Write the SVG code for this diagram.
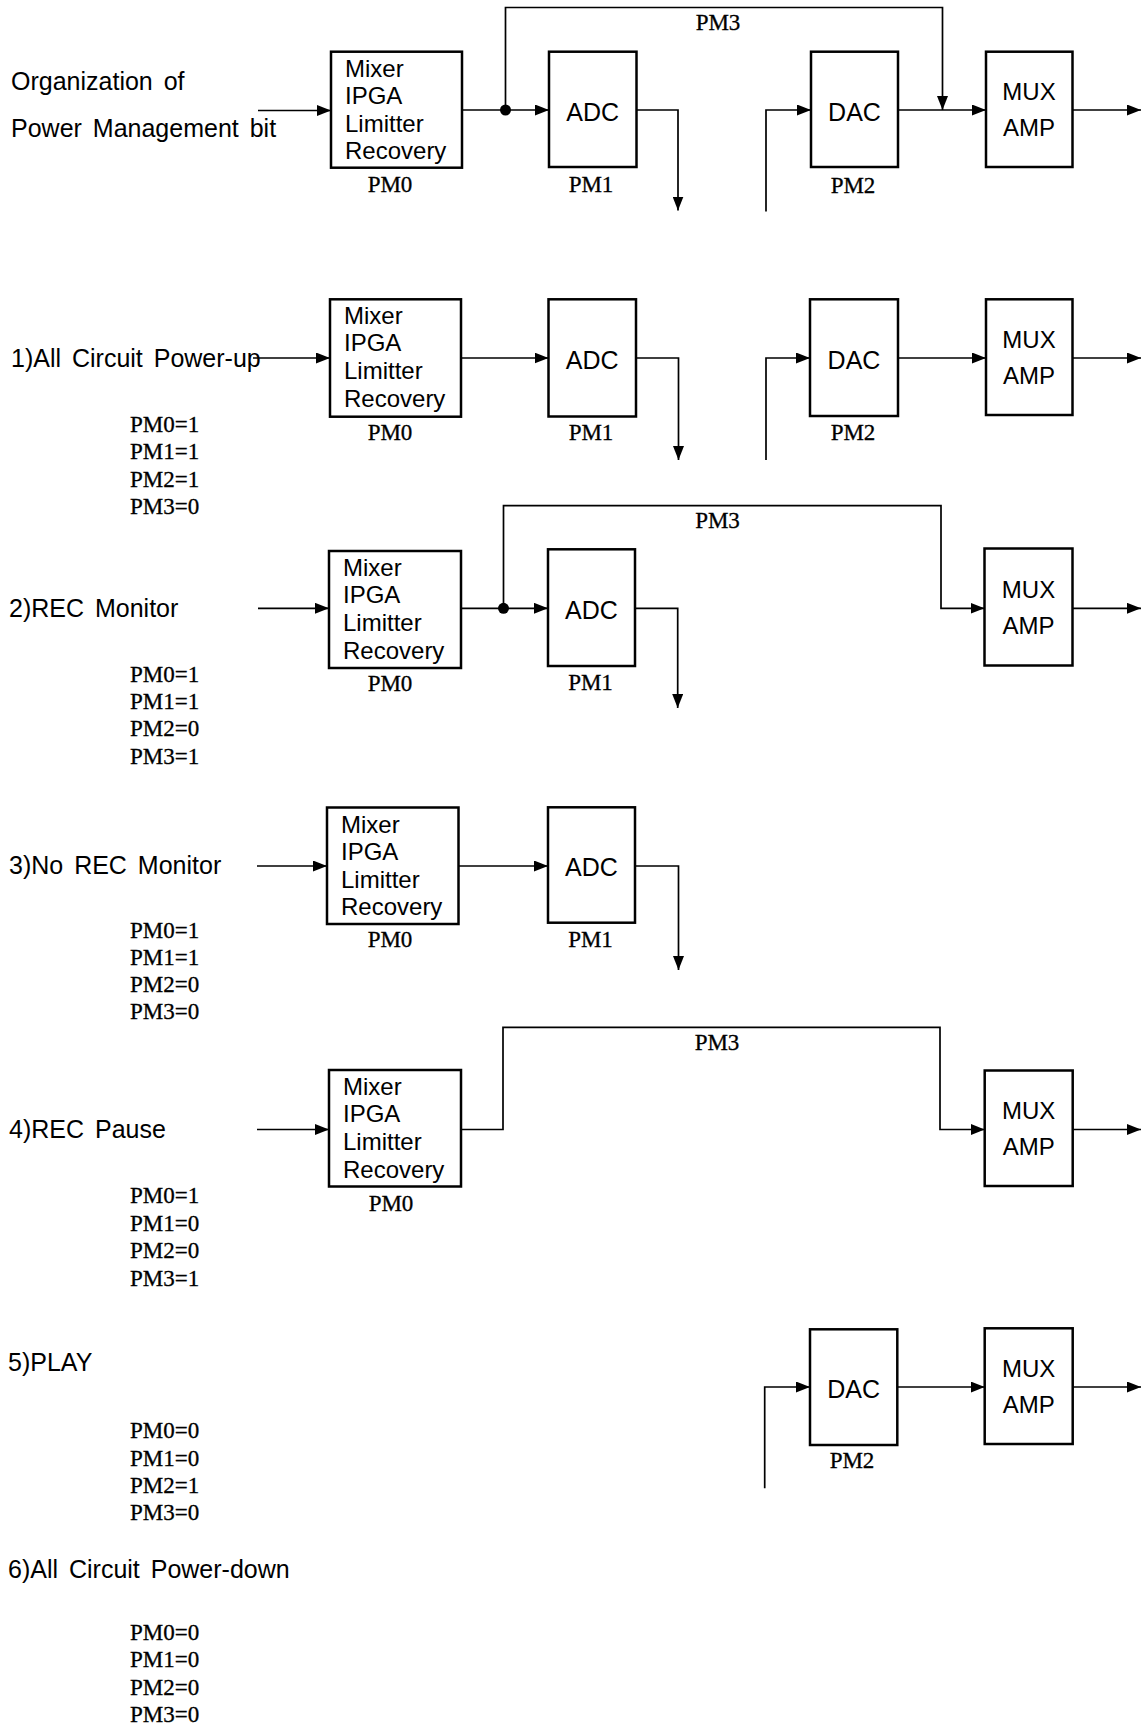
<svg xmlns="http://www.w3.org/2000/svg" width="1142" height="1725" viewBox="0 0 1142 1725">
<style>
.lbl{font-family:"Liberation Sans",Arial,sans-serif;font-size:25px;word-spacing:4px;fill:#000}
.bx{font-family:"Liberation Sans",Arial,sans-serif;font-size:24px;fill:#000}
.bc{font-family:"Liberation Sans",Arial,sans-serif;font-size:25px;fill:#000;text-anchor:middle}
.bm{font-family:"Liberation Sans",Arial,sans-serif;font-size:24px;fill:#000;text-anchor:middle}
.pm{font-family:"Liberation Serif","Times New Roman",serif;font-size:23px;fill:#000;stroke:#000;stroke-width:0.3}
.pmc{font-family:"Liberation Serif","Times New Roman",serif;font-size:23px;fill:#000;stroke:#000;stroke-width:0.3;text-anchor:middle}
.box{fill:#fff;stroke:#000;stroke-width:2.5}
.ln{fill:none;stroke:#000;stroke-width:1.7}
</style>
<defs>
<marker id="ah" markerUnits="userSpaceOnUse" markerWidth="15" markerHeight="11" refX="14" refY="5.5" orient="auto" viewBox="0 0 15 11"><path d="M0,0 L14,5.5 L0,11 z" fill="#000"/></marker>
</defs>
<rect width="1142" height="1725" fill="#fff"/>

<!-- Header -->
<g id="header-title">
<text class="lbl" x="11" y="90">Organization of</text>
<text class="lbl" x="11" y="136.5">Power Management bit</text>
</g>
<g id="h-mixer">
<rect class="box" x="331" y="51.7" width="131" height="116"/>
<text class="bx" x="345" y="76.7">Mixer</text>
<text class="bx" x="345" y="103.7">IPGA</text>
<text class="bx" x="345" y="131.7">Limitter</text>
<text class="bx" x="345" y="159.2">Recovery</text>
<text class="pmc" x="390" y="191.7">PM0</text>
</g>
<g id="h-adc">
<rect class="box" x="549" y="51.7" width="87.5" height="115.3"/>
<text class="bc" x="592.7" y="120.5">ADC</text>
<text class="pmc" x="591" y="192">PM1</text>
</g>
<g id="h-dac">
<rect class="box" x="811" y="51.7" width="87" height="115.3"/>
<text class="bc" x="854.5" y="120.5">DAC</text>
<text class="pmc" x="853" y="192.5">PM2</text>
</g>
<g id="h-mux">
<rect class="box" x="986" y="51.7" width="86.5" height="115.3"/>
<text class="bm" x="1029" y="100">MUX</text>
<text class="bm" x="1029" y="136">AMP</text>
</g>
<g id="h-pm3"><text class="pmc" x="718" y="30">PM3</text></g>

<!-- 1) -->
<g id="s1-label">
<text class="lbl" x="11" y="367">1)All Circuit Power-up</text>
<text class="pm" x="130" y="432">PM0=1</text>
<text class="pm" x="130" y="459">PM1=1</text>
<text class="pm" x="130" y="486.5">PM2=1</text>
<text class="pm" x="130" y="514">PM3=0</text>
</g>
<g id="s1-mixer">
<rect class="box" x="330" y="299.3" width="131" height="117.4"/>
<text class="bx" x="344" y="324.3">Mixer</text>
<text class="bx" x="344" y="351.3">IPGA</text>
<text class="bx" x="344" y="379.3">Limitter</text>
<text class="bx" x="344" y="406.8">Recovery</text>
<text class="pmc" x="390" y="440">PM0</text>
</g>
<g id="s1-adc">
<rect class="box" x="548.5" y="299.3" width="87.5" height="117.2"/>
<text class="bc" x="592.2" y="369">ADC</text>
<text class="pmc" x="591" y="440">PM1</text>
</g>
<g id="s1-dac">
<rect class="box" x="810" y="299.3" width="88" height="116.7"/>
<text class="bc" x="854" y="369">DAC</text>
<text class="pmc" x="853" y="440">PM2</text>
</g>
<g id="s1-mux">
<rect class="box" x="986" y="299.3" width="86.5" height="115.7"/>
<text class="bm" x="1029" y="347.7">MUX</text>
<text class="bm" x="1029" y="383.7">AMP</text>
</g>

<!-- 2) -->
<g id="s2-label">
<text class="lbl" x="9" y="617">2)REC Monitor</text>
<text class="pm" x="130" y="682">PM0=1</text>
<text class="pm" x="130" y="709">PM1=1</text>
<text class="pm" x="130" y="736">PM2=0</text>
<text class="pm" x="130" y="763.5">PM3=1</text>
</g>
<g id="s2-mixer">
<rect class="box" x="329" y="551" width="132" height="117"/>
<text class="bx" x="343" y="576">Mixer</text>
<text class="bx" x="343" y="603">IPGA</text>
<text class="bx" x="343" y="631">Limitter</text>
<text class="bx" x="343" y="658.5">Recovery</text>
<text class="pmc" x="390" y="691">PM0</text>
</g>
<g id="s2-adc">
<rect class="box" x="548" y="549.3" width="87" height="116.7"/>
<text class="bc" x="591.5" y="618.5">ADC</text>
<text class="pmc" x="590.5" y="689.5">PM1</text>
</g>
<g id="s2-mux">
<rect class="box" x="984.5" y="548.5" width="88" height="117"/>
<text class="bm" x="1028.5" y="597.5">MUX</text>
<text class="bm" x="1028.5" y="633.5">AMP</text>
</g>
<g id="s2-pm3"><text class="pmc" x="717.5" y="528.3">PM3</text></g>

<!-- 3) -->
<g id="s3-label">
<text class="lbl" x="9" y="874">3)No REC Monitor</text>
<text class="pm" x="130" y="937.5">PM0=1</text>
<text class="pm" x="130" y="964.5">PM1=1</text>
<text class="pm" x="130" y="992">PM2=0</text>
<text class="pm" x="130" y="1019">PM3=0</text>
</g>
<g id="s3-mixer">
<rect class="box" x="327" y="807.5" width="131.5" height="116.5"/>
<text class="bx" x="341" y="832.5">Mixer</text>
<text class="bx" x="341" y="859.5">IPGA</text>
<text class="bx" x="341" y="887.5">Limitter</text>
<text class="bx" x="341" y="915">Recovery</text>
<text class="pmc" x="390" y="947">PM0</text>
</g>
<g id="s3-adc">
<rect class="box" x="548" y="807.3" width="87" height="115.4"/>
<text class="bc" x="591.5" y="876">ADC</text>
<text class="pmc" x="590.5" y="947">PM1</text>
</g>

<!-- 4) -->
<g id="s4-label">
<text class="lbl" x="9" y="1138">4)REC Pause</text>
<text class="pm" x="130" y="1203">PM0=1</text>
<text class="pm" x="130" y="1230.5">PM1=0</text>
<text class="pm" x="130" y="1258">PM2=0</text>
<text class="pm" x="130" y="1285.5">PM3=1</text>
</g>
<g id="s4-mixer">
<rect class="box" x="329" y="1070" width="132" height="116.5"/>
<text class="bx" x="343" y="1095">Mixer</text>
<text class="bx" x="343" y="1122">IPGA</text>
<text class="bx" x="343" y="1150">Limitter</text>
<text class="bx" x="343" y="1177.5">Recovery</text>
<text class="pmc" x="391" y="1210.7">PM0</text>
</g>
<g id="s4-mux">
<rect class="box" x="984.7" y="1070.5" width="88" height="115.5"/>
<text class="bm" x="1028.7" y="1118.9">MUX</text>
<text class="bm" x="1028.7" y="1154.9">AMP</text>
</g>
<g id="s4-pm3"><text class="pmc" x="717" y="1050">PM3</text></g>

<!-- 5) -->
<g id="s5-label">
<text class="lbl" x="8" y="1370.5">5)PLAY</text>
<text class="pm" x="130" y="1438">PM0=0</text>
<text class="pm" x="130" y="1465.5">PM1=0</text>
<text class="pm" x="130" y="1493">PM2=1</text>
<text class="pm" x="130" y="1520">PM3=0</text>
</g>
<g id="s5-dac">
<rect class="box" x="810" y="1329.3" width="87.3" height="115.7"/>
<text class="bc" x="853.7" y="1398">DAC</text>
<text class="pmc" x="852" y="1468.3">PM2</text>
</g>
<g id="s5-mux">
<rect class="box" x="984.7" y="1328.3" width="88" height="115.7"/>
<text class="bm" x="1028.7" y="1376.8">MUX</text>
<text class="bm" x="1028.7" y="1412.8">AMP</text>
</g>

<!-- 6) -->
<g id="s6-label">
<text class="lbl" x="8" y="1578">6)All Circuit Power-down</text>
<text class="pm" x="130" y="1639.5">PM0=0</text>
<text class="pm" x="130" y="1667">PM1=0</text>
<text class="pm" x="130" y="1694.5">PM2=0</text>
<text class="pm" x="130" y="1721.5">PM3=0</text>
</g>

<g id="connectors">
<!-- header -->
<path class="ln" d="M258,110.5 H331" marker-end="url(#ah)"/>
<path class="ln" d="M462,110 H549" marker-end="url(#ah)"/>
<path class="ln" d="M505.5,110 V7.5 H942.5 V110" marker-end="url(#ah)"/>
<circle cx="505.5" cy="110" r="5.5" fill="#000"/>
<path class="ln" d="M636.5,110 H678 V210.5" marker-end="url(#ah)"/>
<path class="ln" d="M766,211.5 V110 H811" marker-end="url(#ah)"/>
<path class="ln" d="M898,110 H986" marker-end="url(#ah)"/>
<path class="ln" d="M1072.5,110 H1141" marker-end="url(#ah)"/>
<!-- 1 -->
<path class="ln" d="M253,358 H330" marker-end="url(#ah)"/>
<path class="ln" d="M461,358 H548.5" marker-end="url(#ah)"/>
<path class="ln" d="M636,358 H678.5 V460" marker-end="url(#ah)"/>
<path class="ln" d="M766,460 V358 H810" marker-end="url(#ah)"/>
<path class="ln" d="M898,358 H986" marker-end="url(#ah)"/>
<path class="ln" d="M1072.5,358 H1141" marker-end="url(#ah)"/>
<!-- 2 -->
<path class="ln" d="M258,608.3 H329" marker-end="url(#ah)"/>
<path class="ln" d="M461,608.3 H548" marker-end="url(#ah)"/>
<path class="ln" d="M503.5,608.3 V505.7 H941 V608.3 H984.5" marker-end="url(#ah)"/>
<circle cx="503.5" cy="608.3" r="5.5" fill="#000"/>
<path class="ln" d="M635,608.3 H677.7 V708" marker-end="url(#ah)"/>
<path class="ln" d="M1072.5,608.3 H1141" marker-end="url(#ah)"/>
<!-- 3 -->
<path class="ln" d="M257,866 H327" marker-end="url(#ah)"/>
<path class="ln" d="M458.5,866 H548" marker-end="url(#ah)"/>
<path class="ln" d="M635,866 H678.5 V970" marker-end="url(#ah)"/>
<!-- 4 -->
<path class="ln" d="M257,1129.5 H329" marker-end="url(#ah)"/>
<path class="ln" d="M461,1129.5 H503 V1027.4 H940 V1129.5 H984.7" marker-end="url(#ah)"/>
<path class="ln" d="M1072.7,1129.5 H1141" marker-end="url(#ah)"/>
<!-- 5 -->
<path class="ln" d="M764.7,1488.3 V1387 H810" marker-end="url(#ah)"/>
<path class="ln" d="M897.3,1387 H984.7" marker-end="url(#ah)"/>
<path class="ln" d="M1072.7,1387 H1141" marker-end="url(#ah)"/>
</g>
</svg>
